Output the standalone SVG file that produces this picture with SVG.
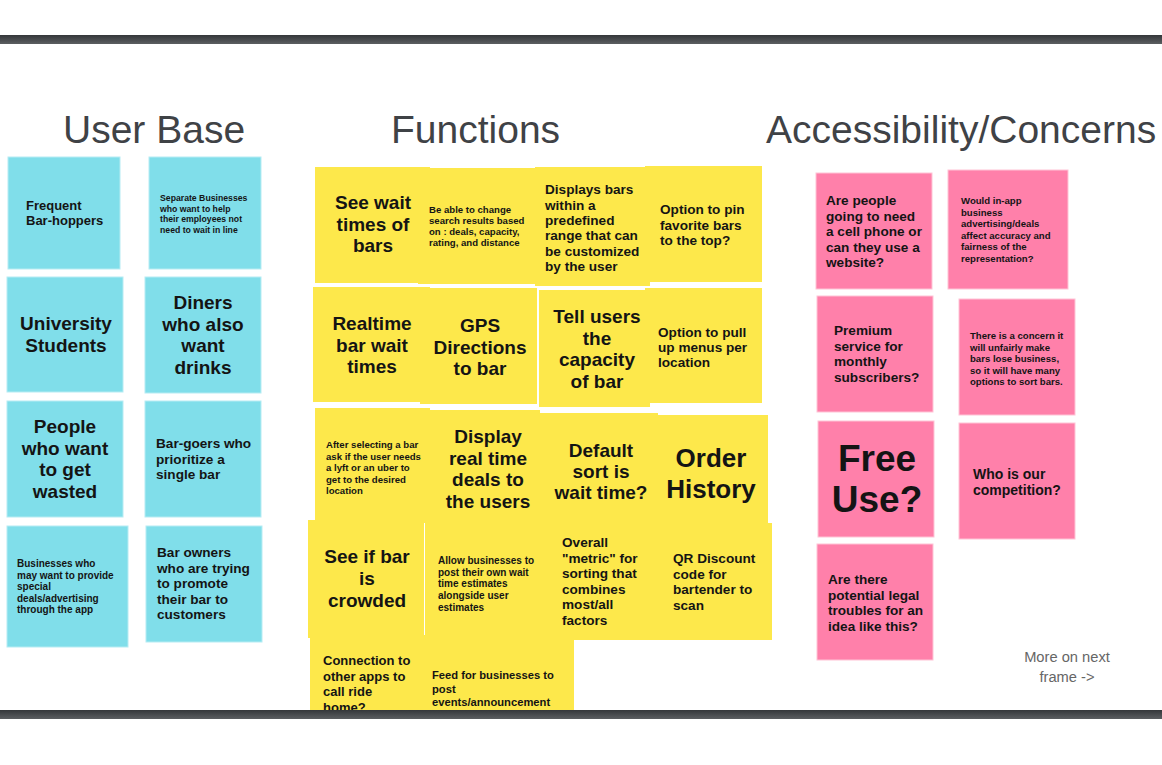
<svg xmlns="http://www.w3.org/2000/svg" width="1162" height="765" viewBox="0 0 1162 765">
<defs>
<linearGradient id="bar" x1="0" y1="0" x2="0" y2="1">
<stop offset="0" stop-color="#34373a"/>
<stop offset="1" stop-color="#5b5e61"/>
</linearGradient>
<style>
.blue{fill:#80deea;stroke:#b6ecf3;stroke-width:1}
.yel{fill:#fde84b}
.pink{fill:#ff80aa;stroke:#ffc4d6;stroke-width:1}
.t{font-family:"Liberation Sans",Arial,sans-serif;font-weight:bold;fill:#141414}
.big{font-size:19px;text-anchor:middle}
.mid{font-size:13.6px}
.sm{font-size:9.6px}
.h{font-family:"Liberation Sans",Arial,sans-serif;font-size:39px;fill:#3f4246}
.note{font-family:"Liberation Sans",Arial,sans-serif;font-size:14.7px;fill:#666;text-anchor:middle}
</style>
</defs>
<rect width="1162" height="765" fill="#ffffff"/>

<g id="headings">
<text class="h" x="63" y="143">User Base</text>
<text class="h" x="391" y="143">Functions</text>
<text class="h" x="766" y="143">Accessibility/Concerns</text>
</g>

<g id="userbase">
<g id="ub1"><rect class="blue" x="8" y="157" width="112" height="112"/>
<text class="t" font-size="13px" x="26"><tspan x="26" y="210">Frequent</tspan><tspan x="26" y="225">Bar-hoppers</tspan></text></g>
<g id="ub2"><rect class="blue" x="149" y="157" width="112" height="112"/>
<text class="t" font-size="8.7px"><tspan x="160" y="201">Separate Businesses</tspan><tspan x="160" y="211.5">who want to help</tspan><tspan x="160" y="222">their employees not</tspan><tspan x="160" y="232.5">need to wait in line</tspan></text></g>
<g id="ub3"><rect class="blue" x="7" y="277" width="116" height="115"/>
<text class="t big"><tspan x="66" y="330">University</tspan><tspan x="66" y="352">Students</tspan></text></g>
<g id="ub4"><rect class="blue" x="145" y="277" width="116" height="116"/>
<text class="t big"><tspan x="203" y="309">Diners</tspan><tspan x="203" y="330.5">who also</tspan><tspan x="203" y="352">want</tspan><tspan x="203" y="373.5">drinks</tspan></text></g>
<g id="ub5"><rect class="blue" x="7" y="401" width="116" height="116"/>
<text class="t big"><tspan x="65" y="433">People</tspan><tspan x="65" y="454.5">who want</tspan><tspan x="65" y="476">to get</tspan><tspan x="65" y="497.5">wasted</tspan></text></g>
<g id="ub6"><rect class="blue" x="145" y="401" width="116" height="116"/>
<text class="t mid"><tspan x="156" y="448">Bar-goers who</tspan><tspan x="156" y="463.5">prioritize a</tspan><tspan x="156" y="479">single bar</tspan></text></g>
<g id="ub7"><rect class="blue" x="7" y="526" width="121" height="121"/>
<text class="t" font-size="10px"><tspan x="17" y="567">Businesses who</tspan><tspan x="17" y="578.5">may want to provide</tspan><tspan x="17" y="590">special</tspan><tspan x="17" y="601.5">deals/advertising</tspan><tspan x="17" y="613">through the app</tspan></text></g>
<g id="ub8"><rect class="blue" x="146" y="526" width="116" height="116"/>
<text class="t mid"><tspan x="157" y="557">Bar owners</tspan><tspan x="157" y="572.5">who are trying</tspan><tspan x="157" y="588">to promote</tspan><tspan x="157" y="603.5">their bar to</tspan><tspan x="157" y="619">customers</tspan></text></g>
</g>

<g id="functions">
<g id="fA"><rect class="yel" x="315" y="167" width="115" height="116"/>
<text class="t big"><tspan x="373" y="209">See wait</tspan><tspan x="373" y="230.5">times of</tspan><tspan x="373" y="252">bars</tspan></text></g>
<g id="fB"><rect class="yel" x="418" y="168" width="117" height="116"/>
<text class="t sm"><tspan x="429" y="213">Be able to change</tspan><tspan x="429" y="224">search results based</tspan><tspan x="429" y="235">on : deals, capacity,</tspan><tspan x="429" y="246">rating, and distance</tspan></text></g>
<g id="fC"><rect class="yel" x="535" y="167" width="115" height="119"/>
<text class="t mid"><tspan x="545" y="194">Displays bars</tspan><tspan x="545" y="209.5">within a</tspan><tspan x="545" y="225">predefined</tspan><tspan x="545" y="240">range that can</tspan><tspan x="545" y="255.5">be customized</tspan><tspan x="545" y="271">by the user</tspan></text></g>
<g id="fD"><rect class="yel" x="645" y="166" width="117" height="116"/>
<text class="t mid"><tspan x="660" y="214">Option to pin</tspan><tspan x="660" y="229.5">favorite bars</tspan><tspan x="660" y="245">to the top?</tspan></text></g>

<g id="fE"><rect class="yel" x="313" y="287" width="117" height="115"/>
<text class="t big"><tspan x="372" y="330">Realtime</tspan><tspan x="372" y="351.5">bar wait</tspan><tspan x="372" y="373">times</tspan></text></g>
<g id="fF"><rect class="yel" x="420" y="288" width="117" height="116"/>
<text class="t big"><tspan x="480" y="332">GPS</tspan><tspan x="480" y="353.5">Directions</tspan><tspan x="480" y="375">to bar</tspan></text></g>
<g id="fG"><rect class="yel" x="539" y="290" width="111" height="117"/>
<text class="t big"><tspan x="597" y="323">Tell users</tspan><tspan x="597" y="344.5">the</tspan><tspan x="597" y="366">capacity</tspan><tspan x="597" y="387.5">of bar</tspan></text></g>
<g id="fH"><rect class="yel" x="645" y="288" width="117" height="115"/>
<text class="t mid"><tspan x="658" y="337">Option to pull</tspan><tspan x="658" y="352">up menus per</tspan><tspan x="658" y="367">location</tspan></text></g>

<g id="fI"><rect class="yel" x="315" y="408" width="115" height="114"/>
<text class="t sm"><tspan x="326" y="448">After selecting a bar</tspan><tspan x="326" y="459.5">ask if the user needs</tspan><tspan x="326" y="471">a lyft or an uber to</tspan><tspan x="326" y="482.5">get to the desired</tspan><tspan x="326" y="494">location</tspan></text></g>
<g id="fJ"><rect class="yel" x="422" y="410" width="118" height="113"/>
<text class="t big"><tspan x="488" y="443">Display</tspan><tspan x="488" y="464.5">real time</tspan><tspan x="488" y="486">deals to</tspan><tspan x="488" y="507.5">the users</tspan></text></g>
<g id="fK"><rect class="yel" x="540" y="413" width="118" height="112"/>
<text class="t big"><tspan x="601" y="457">Default</tspan><tspan x="601" y="478">sort is</tspan><tspan x="601" y="499">wait time?</tspan></text></g>
<g id="fL"><rect class="yel" x="658" y="415" width="110" height="108"/>
<text class="t" font-size="26px" text-anchor="middle"><tspan x="711" y="467">Order</tspan><tspan x="711" y="498">History</tspan></text></g>

<g id="fM"><rect class="yel" x="308" y="520" width="116" height="118"/>
<text class="t big"><tspan x="367" y="563">See if bar</tspan><tspan x="367" y="585">is</tspan><tspan x="367" y="607">crowded</tspan></text></g>
<g id="fN"><rect class="yel" x="425" y="523" width="115" height="117"/>
<text class="t" font-size="10px"><tspan x="438" y="564">Allow businesses to</tspan><tspan x="438" y="575.7">post their own wait</tspan><tspan x="438" y="587.4">time estimates</tspan><tspan x="438" y="599.1">alongside user</tspan><tspan x="438" y="610.8">estimates</tspan></text></g>
<g id="fO"><rect class="yel" x="540" y="523" width="117" height="117"/>
<text class="t mid"><tspan x="562" y="547">Overall</tspan><tspan x="562" y="562.5">"metric" for</tspan><tspan x="562" y="578">sorting that</tspan><tspan x="562" y="593.5">combines</tspan><tspan x="562" y="609">most/all</tspan><tspan x="562" y="624.5">factors</tspan></text></g>
<g id="fP"><rect class="yel" x="655" y="523" width="117" height="117"/>
<text class="t mid"><tspan x="673" y="563">QR Discount</tspan><tspan x="673" y="578.5">code for</tspan><tspan x="673" y="594">bartender to</tspan><tspan x="673" y="609.5">scan</tspan></text></g>

<g id="fQ"><rect class="yel" x="310" y="635" width="115" height="80"/>
<text class="t" font-size="13px"><tspan x="323" y="665">Connection to</tspan><tspan x="323" y="680.5">other apps to</tspan><tspan x="323" y="696">call ride</tspan><tspan x="323" y="711.5">home?</tspan></text></g>
<g id="fR"><rect class="yel" x="420" y="638" width="154" height="77"/>
<text class="t" font-size="11.2px"><tspan x="432" y="679">Feed for businesses to</tspan><tspan x="432" y="692.5">post</tspan><tspan x="432" y="706">events/announcement</tspan></text></g>
</g>

<g id="concerns">
<g id="c1"><rect class="pink" x="816" y="173" width="116" height="116"/>
<text class="t mid"><tspan x="826" y="205">Are people</tspan><tspan x="826" y="220.5">going to need</tspan><tspan x="826" y="236">a cell phone or</tspan><tspan x="826" y="251.5">can they use a</tspan><tspan x="826" y="267">website?</tspan></text></g>
<g id="c2"><rect class="pink" x="948" y="170" width="120" height="119"/>
<text class="t sm"><tspan x="961" y="204">Would in-app</tspan><tspan x="961" y="215.6">business</tspan><tspan x="961" y="227.2">advertising/deals</tspan><tspan x="961" y="238.8">affect accuracy and</tspan><tspan x="961" y="250.4">fairness of the</tspan><tspan x="961" y="262">representation?</tspan></text></g>
<g id="c3"><rect class="pink" x="817" y="296" width="116" height="116"/>
<text class="t mid"><tspan x="834" y="335">Premium</tspan><tspan x="834" y="350.5">service for</tspan><tspan x="834" y="366">monthly</tspan><tspan x="834" y="381.5">subscribers?</tspan></text></g>
<g id="c4"><rect class="pink" x="959" y="299" width="116" height="116"/>
<text class="t sm"><tspan x="970" y="339">There is a concern it</tspan><tspan x="970" y="350.5">will unfairly make</tspan><tspan x="970" y="362">bars lose business,</tspan><tspan x="970" y="373.5">so it will have many</tspan><tspan x="970" y="385">options to sort bars.</tspan></text></g>
<g id="c5"><rect class="pink" x="818" y="421" width="116" height="116"/>
<text class="t" font-size="37px" text-anchor="middle"><tspan x="877" y="471">Free</tspan><tspan x="877" y="512">Use?</tspan></text></g>
<g id="c6"><rect class="pink" x="959" y="423" width="116" height="116"/>
<text class="t" font-size="14px"><tspan x="973" y="479">Who is our</tspan><tspan x="973" y="494.5">competition?</tspan></text></g>
<g id="c7"><rect class="pink" x="817" y="544" width="116" height="116"/>
<text class="t mid"><tspan x="828" y="584">Are there</tspan><tspan x="828" y="599.5">potential legal</tspan><tspan x="828" y="615">troubles for an</tspan><tspan x="828" y="630.5">idea like this?</tspan></text></g>
<g id="more"><text class="note"><tspan x="1067" y="662">More on next</tspan><tspan x="1067" y="682">frame -&gt;</tspan></text></g>
</g>

<g id="connectors"/>

<g id="frame">
<rect x="0" y="35" width="1162" height="9" fill="url(#bar)"/>
<rect x="0" y="710" width="1162" height="9" fill="url(#bar)"/>
</g>
</svg>
